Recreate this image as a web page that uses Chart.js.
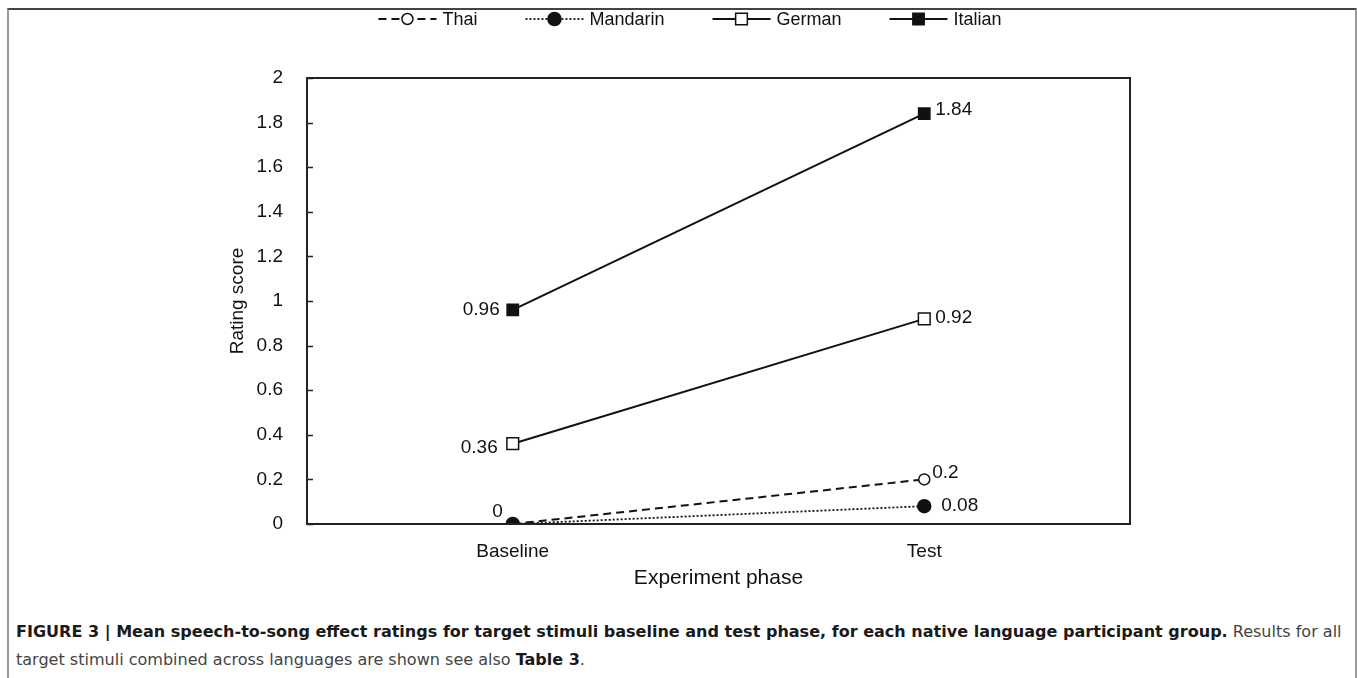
<!DOCTYPE html>
<html>
<head>
<meta charset="utf-8">
<script src="https://cdn.jsdelivr.net/npm/chart.js@4/dist/chart.umd.min.js"></script>
<style>
    html, body { margin: 0; padding: 0; background: #fff; }
    body { width: 1357px; height: 678px; position: relative; overflow: hidden; font-family: "Liberation Sans", Arial, sans-serif; }
    #frame { position: absolute; left: 7px; top: 8px; width: 1346px; height: 700px; border-top: 2px solid #444; border-left: 2px solid #999; border-right: 2px solid #999; }
    #chart { position: absolute; left: 0; top: 0; }
    #caption { position: absolute; left: 16px; top: 618px; white-space: nowrap; font-family: "Liberation Sans Narrow", "DejaVu Sans Condensed", sans-serif; font-size: 16.5px; line-height: 28px; color: #444; transform: scaleX(1.08); transform-origin: 0 0; }
    #caption b { color: #1a1a1a; }
</style>
</head>
<body>
<div id="frame"></div>
<canvas id="chart" width="1357" height="600"></canvas>
<div id="caption"><b>FIGURE 3 | Mean speech-to-song effect ratings for target stimuli baseline and test phase, for each native language participant group.</b> Results for all<br>target stimuli combined across languages are shown see also <b>Table 3</b>.</div>
<script>
// values
const phases = ['Baseline', 'Test'];
const languages = ['Thai', 'Mandarin', 'German', 'Italian'];
const thai = [0, 0.2];
const mandarin = [0, 0.08];
const german = [0.36, 0.92];
const italian = [0.96, 1.84];
const yTicks = [0, 0.2, 0.4, 0.6, 0.8, 1, 1.2, 1.4, 1.6, 1.8, 2];

// where each value label sits relative to its point (null = no label)
const labelPos = {
    Thai:     [{ dx: -10, dy: -12, align: 'right' }, { dx: 8, dy: -7, align: 'left' }],
    Mandarin: [null, { dx: 17, dy: 0, align: 'left' }],
    German:   [{ dx: -15, dy: 4, align: 'right' }, { dx: 11, dy: -1, align: 'left' }],
    Italian:  [{ dx: -13, dy: 0, align: 'right' }, { dx: 11, dy: -4, align: 'left' }],
};

const fontFam = '"Liberation Sans", Arial, sans-serif';

const frameBox = {
    id: 'frameBox',
    afterDraw(chart) {
        const { ctx, chartArea: a, scales: { y } } = chart;
        ctx.save();
        ctx.strokeStyle = '#222';
        ctx.lineWidth = 2;
        ctx.strokeRect(a.left, a.top, a.right - a.left, a.bottom - a.top);
        ctx.lineWidth = 1.5;
        yTicks.forEach(v => {
            const py = Math.round(y.getPixelForValue(v)) + 0.5;
            ctx.beginPath();
            ctx.moveTo(a.left, py);
            ctx.lineTo(a.left + 6, py);
            ctx.stroke();
        });
        ctx.restore();
    }
};

const valueLabels = {
    id: 'valueLabels',
    afterDatasetsDraw(chart) {
        const { ctx } = chart;
        ctx.save();
        ctx.font = '19px ' + fontFam;
        ctx.fillStyle = '#111';
        ctx.textBaseline = 'middle';
        chart.data.datasets.forEach((ds, i) => {
            const meta = chart.getDatasetMeta(i);
            const pos = labelPos[ds.label];
            meta.data.forEach((pt, j) => {
                const p = pos[j];
                if (!p) return;
                ctx.textAlign = p.align;
                ctx.fillText(String(ds.data[j]), pt.x + p.dx, pt.y + p.dy);
            });
        });
        ctx.restore();
    }
};

const lineLegend = {
    id: 'lineLegend',
    afterDraw(chart) {
        const { ctx } = chart;
        const symW = 58, gap = 6, itemGap = 48, cy = 19;
        ctx.save();
        ctx.font = '18px ' + fontFam;
        const items = chart.data.datasets.slice().sort((a, b) => languages.indexOf(a.label) - languages.indexOf(b.label));
        const widths = items.map(ds => symW + gap + ctx.measureText(ds.label).width);
        const total = widths.reduce((s, w) => s + w, 0) + itemGap * (items.length - 1);
        let x = 690 - total / 2;
        items.forEach((ds, i) => {
            ctx.strokeStyle = '#111';
            ctx.lineWidth = ds.borderWidth;
            ctx.setLineDash(ds.borderDash || []);
            ctx.beginPath();
            ctx.moveTo(x, cy);
            ctx.lineTo(x + symW, cy);
            ctx.stroke();
            ctx.setLineDash([]);
            ctx.fillStyle = ds.pointBackgroundColor;
            ctx.strokeStyle = '#111';
            ctx.lineWidth = ds.pointBorderWidth;
            Chart.helpers.drawPoint(ctx, {
                pointStyle: ds.pointStyle, radius: ds.pointRadius,
                borderWidth: ds.pointBorderWidth, rotation: 0
            }, x + symW / 2, cy);
            ctx.fillStyle = '#111';
            ctx.textAlign = 'left';
            ctx.textBaseline = 'middle';
            ctx.fillText(ds.label, x + symW + gap, cy + 1);
            x += widths[i] + itemGap;
        });
        ctx.restore();
    }
};

function series(label, data, opts) {
    return Object.assign({
        label, data,
        borderColor: '#111',
        borderWidth: 2,
        pointBorderColor: '#111',
        pointBorderWidth: 1.5,
        pointHoverRadius: 0,
        fill: false,
        tension: 0,
    }, opts);
}

new Chart(document.getElementById('chart').getContext('2d'), {
    type: 'line',
    data: {
        labels: phases,
        datasets: [
            series('Thai', thai, { borderDash: [8, 5], pointStyle: 'circle', pointRadius: 5.5, pointBackgroundColor: '#fff', order: 2 }),
            series('Mandarin', mandarin, { borderDash: [2, 2], borderWidth: 1.8, pointStyle: 'circle', pointRadius: 6.5, pointBackgroundColor: '#111', order: 0 }),
            series('German', german, { pointStyle: 'rect', pointRadius: 8.3, pointBackgroundColor: '#fff', order: 1 }),
            series('Italian', italian, { pointStyle: 'rect', pointRadius: 8, pointBackgroundColor: '#111', order: 1 }),
        ],
    },
    options: {
        responsive: false,
        animation: false,
        devicePixelRatio: 1,
        layout: { padding: { left: 220, right: 227, top: 78, bottom: 0 } },
        plugins: { legend: { display: false }, tooltip: { enabled: false } },
        scales: {
            x: {
                offset: true,
                grid: { display: false },
                border: { display: false },
                ticks: { color: '#111', padding: 8, font: { family: fontFam, size: 19 } },
                title: { display: true, text: 'Experiment phase', color: '#111', padding: { top: 4, bottom: 9 }, font: { family: fontFam, size: 21 } },
                afterFit(scale) { scale.height = 76; },
            },
            y: {
                min: 0, max: 2,
                afterBuildTicks(scale) { scale.ticks = yTicks.map(v => ({ value: v })); },
                grid: { display: false },
                border: { display: false },
                ticks: { color: '#111', padding: 16, font: { family: fontFam, size: 19 }, callback: v => String(v) },
                title: { display: true, text: 'Rating score', color: '#111', padding: 6, font: { family: fontFam, size: 19 } },
                afterFit(scale) { scale.width = 87; },
            },
        },
    },
    plugins: [frameBox, valueLabels, lineLegend],
});
</script>
</body>
</html>
